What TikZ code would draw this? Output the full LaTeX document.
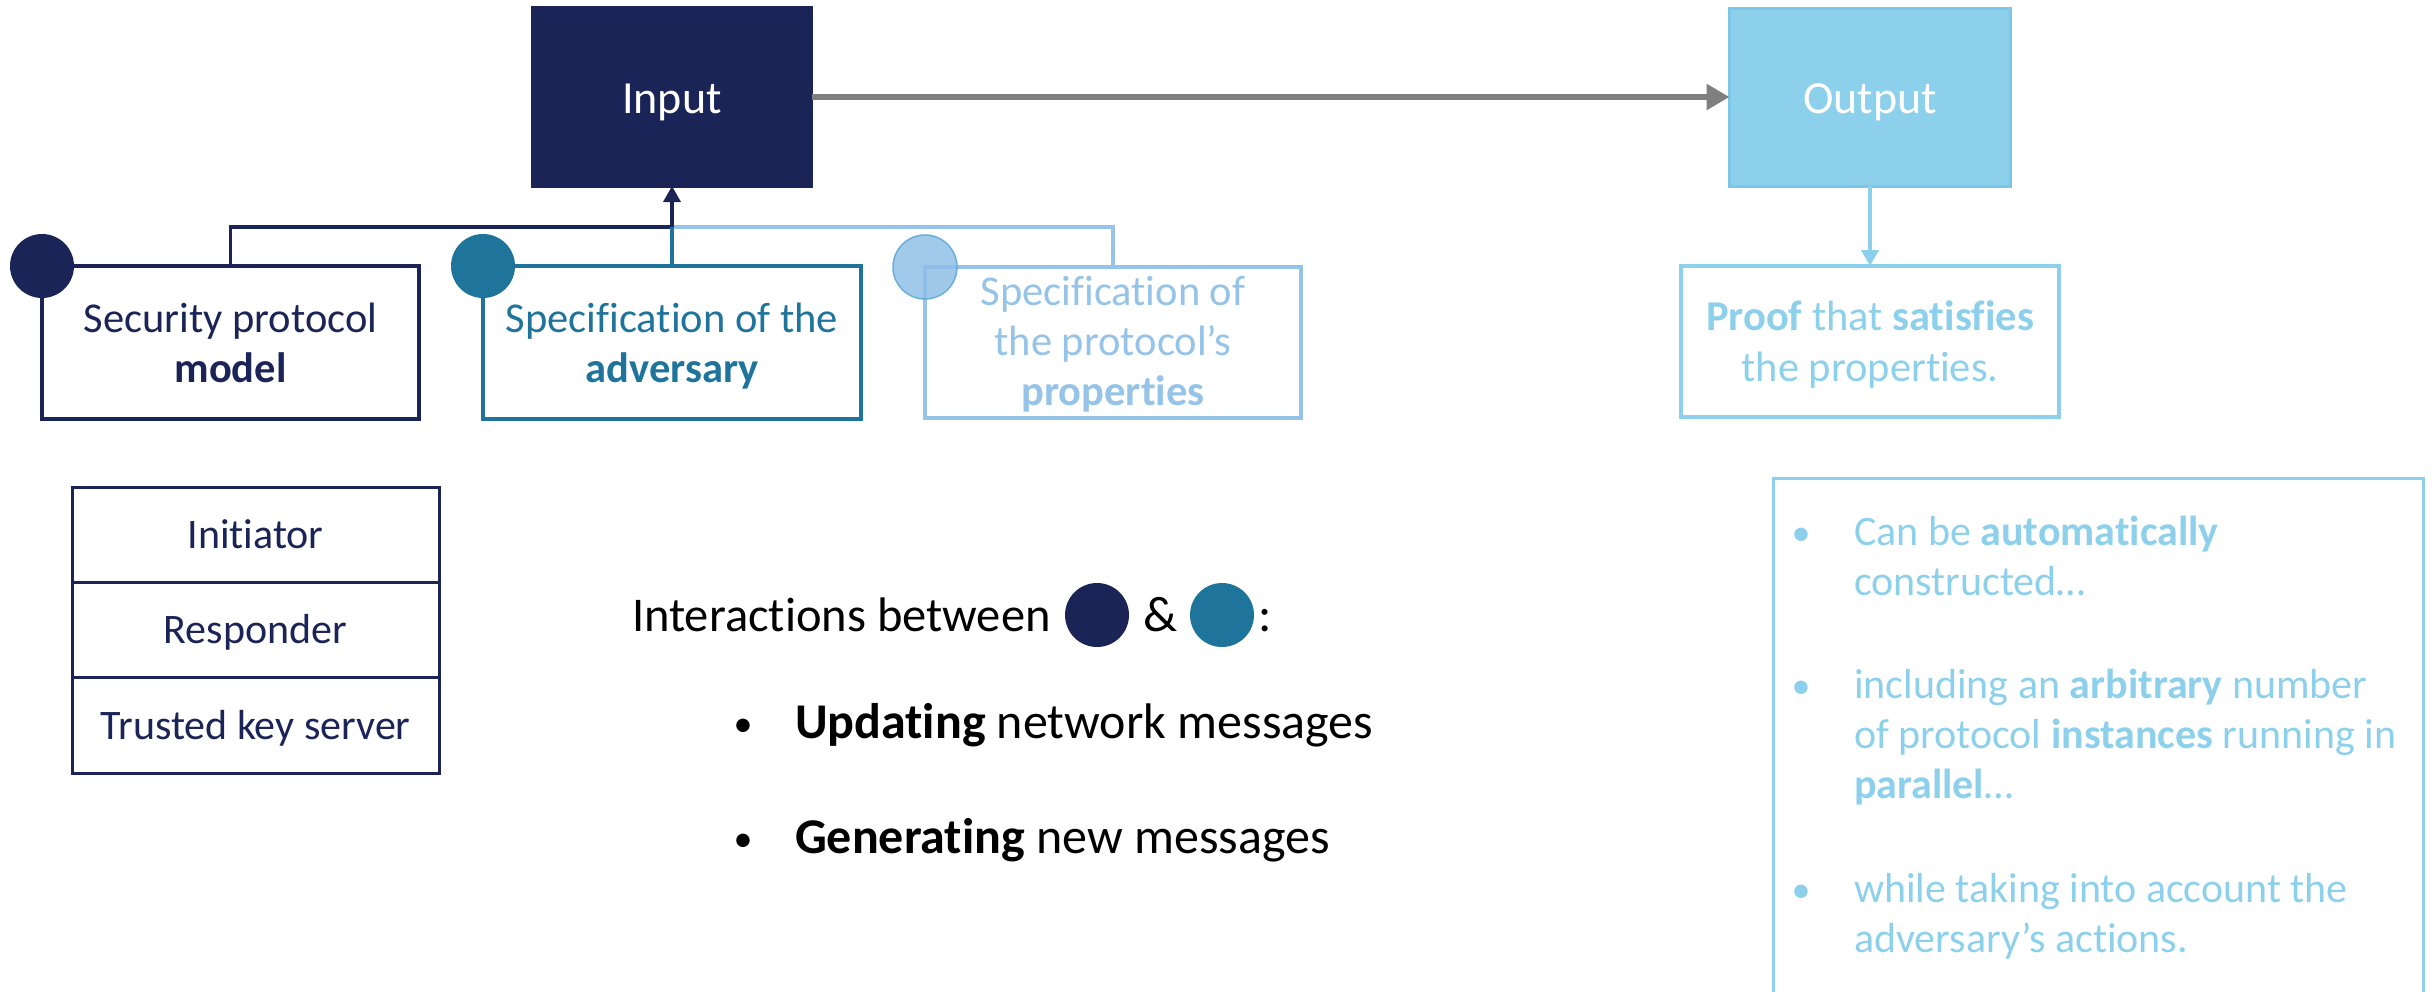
\documentclass[tikz,border=0pt]{standalone}
\usepackage{fontspec}
\setmainfont{Carlito}[Ligatures=NoCommon]
\usetikzlibrary{arrows.meta}
\definecolor{navy}{HTML}{1A2457}
\definecolor{tealc}{HTML}{1E749B}
\definecolor{lightc}{HTML}{8DD0EB}
\definecolor{lightedge}{HTML}{7CC7E7}
\definecolor{propc}{HTML}{95C4E8}
\definecolor{propfill}{HTML}{8FBFE6}
\definecolor{propedge}{HTML}{6AAEDE}
\definecolor{arrowgray}{HTML}{7F7F7F}
\begin{document}
\begin{tikzpicture}[x=1pt,y=-1pt,
  box/.style={draw=#1, line width=3.5, inner sep=0, outer sep=0, fill=white},
  big/.style={font=\fontsize{46}{54}\selectfont},
  txt/.style={anchor=base, inner sep=0, outer sep=0, font=\fontsize{42.5}{50}\selectfont},
  ltxt/.style={anchor=base west, inner sep=0, outer sep=0, font=\fontsize{42}{50}\selectfont, text=lightc},
  mtxt/.style={anchor=base west, inner sep=0, outer sep=0, font=\fontsize{50}{58}\selectfont},
  bul/.style={anchor=base, inner sep=0, outer sep=0, font=\fontsize{38}{46}\selectfont},
  dot/.style={circle, inner sep=0, outer sep=0, minimum size=64, fill=#1},
  row/.style={draw=navy, line width=3, inner sep=0, outer sep=0, minimum width=367,
    text height=28, text depth=0, text=navy, font=\fontsize{42}{50}\selectfont},
  conn/.style={line width=3.5}
]
\useasboundingbox (0,0) rectangle (2433,991);
\clip (0,0) rectangle (2433,991);

% ---- input and output blocks
\node[box=navy, fill=navy, minimum width=279, minimum height=178] (inp) at (672,97) {};
\node[box=lightedge, fill=lightc, line width=3, minimum width=281, minimum height=178] (out) at (1870,97) {};
\node[big, text=white, anchor=base, inner sep=0] (inpl) at (672,113) {Input};
\node[big, text=white, anchor=base, inner sep=0] (outl) at (1870,113) {Output};

% ---- the three specification boxes and the proof box
\node[box=navy, minimum width=377, minimum height=153] (sec) at (230.5,342.5) {};
\node[box=tealc, minimum width=378, minimum height=153] (adv) at (672,342.5) {};
\node[box=propc, line width=3.5, minimum width=376, minimum height=151] (prop) at (1113,342.5) {};
\node[box=lightc, minimum width=378, minimum height=151] (proof) at (1870,341.5) {};

% ---- connectors
\coordinate (j) at (672,227);
\draw[conn, propc] (j) -| (prop.north);
\draw[conn, navy] (sec.north) |- (j);
\draw[conn, tealc] (adv.north) -- (j);
\draw[conn, navy, -{Triangle[length=16pt,width=17pt]}] (j) -- (inp.south);
\draw[line width=6.5, arrowgray, -{Triangle[length=23pt,width=25pt]}] (inp.east) -- (out.west);
\draw[line width=4, lightc, -{Triangle[length=16pt,width=17pt]}] (out.south) -- (proof.north);

% ---- corner markers
\node[dot=navy] (c1) at (sec.north west) {};
\node[dot=tealc] (c2) at (adv.north west) {};
\node[circle, inner sep=0, outer sep=0, minimum size=64, fill=propfill, fill opacity=0.85,
  draw=propedge, line width=1.5] (c3) at (prop.north west) {};

% ---- box labels
\node[txt, text=navy] (s1) at (230.5,332) {Security protocol};
\node[txt, text=navy] (s2) at (230.5,382) {\textbf{model}};
\node[txt, text=tealc] (a1) at (672,332) {Specification of the};
\node[txt, text=tealc] (a2) at (672,382) {\textbf{adversary}};
\node[txt, text=propc] (p1) at (1113,305) {Specification of};
\node[txt, text=propc] (p2) at (1113,355) {the protocol’s};
\node[txt, text=propc] (p3) at (1113,405) {\textbf{properties}};
\node[txt, text=lightc] (f1) at (1870,330) {\textbf{Proof} that \textbf{satisfies}};
\node[txt, text=lightc] (f2) at (1870,381) {the properties.};

% ---- roles table
\node[row, minimum height=95] (r1) at (255.5,534.5) {Initiator};
\node[row, minimum height=95] (r2) at (255.5,629.5) {Responder};
\node[row, minimum height=96] (r3) at (255.5,725) {Trusted key server};

% ---- interactions
\node[mtxt, font=\fontsize{48.5}{58}\selectfont] (it) at (632,631) {Interactions between};
\node[dot=navy] (d1) at (1097,615) {};
\node[mtxt, anchor=base] (amp) at (1161,631) {\&};
\node[dot=tealc] (d2) at (1222,615) {};
\node[mtxt, anchor=base] (col) at (1265,631) {:};
\node[bul] (b1) at (743,736) {•};
\node[mtxt] (u1) at (795,738) {\textbf{Updating} network messages};
\node[bul] (b2) at (743,851) {•};
\node[mtxt] (u2) at (795,853) {\textbf{Generating} new messages};

% ---- notes on the proof
\node[draw=lightc, line width=3, inner sep=0, outer sep=0, minimum width=650, minimum height=540] (notes) at (2098,748) {};
\node[bul, text=lightc] (nb1) at (1801,545) {•};
\node[ltxt] (n1) at (1854,545) {Can be \textbf{automatically}};
\node[ltxt] (n2) at (1854,595) {constructed…};
\node[bul, text=lightc] (nb2) at (1801,698) {•};
\node[ltxt] (n3) at (1854,698) {including an \textbf{arbitrary} number};
\node[ltxt] (n4) at (1854,748) {of protocol \textbf{instances} running in};
\node[ltxt] (n5) at (1854,798) {\textbf{parallel}…};
\node[bul, text=lightc] (nb3) at (1801,902) {•};
\node[ltxt] (n6) at (1854,902) {while taking into account the};
\node[ltxt] (n7) at (1854,952) {adversary’s actions.};
\end{tikzpicture}
\end{document}
